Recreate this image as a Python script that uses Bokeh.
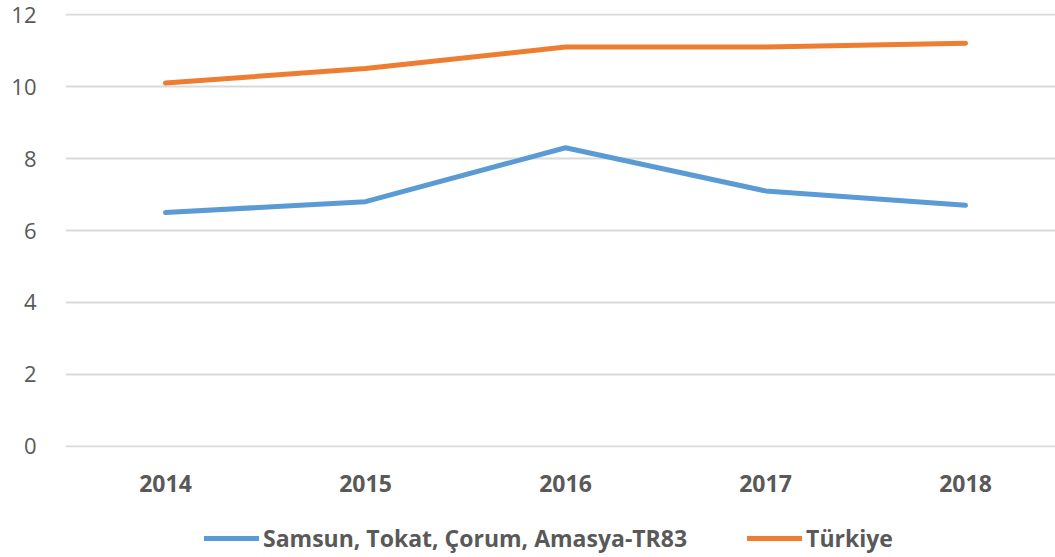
from bokeh.plotting import figure
from bokeh.layouts import column
from bokeh.models import Range1d, FixedTicker, Legend, LegendItem
from bokeh.embed import file_html
from bokeh.resources import INLINE

years = ["2014", "2015", "2016", "2017", "2018"]
tr83 = [6.5, 6.8, 8.3, 7.1, 6.7]
turkiye = [10.1, 10.5, 11.1, 11.1, 11.2]
series_names = ["Samsun, Tokat, Çorum, Amasya-TR83", "Türkiye"]
series_colors = ["#5B9BD5", "#ED7D31"]
y_ticks = [0, 2, 4, 6, 8, 10, 12]

xs = list(range(len(years)))
W = 1055
LEFT = 65

p = figure(width=W, height=505, output_backend="svg", toolbar_location=None,
           x_range=Range1d(-0.5, (W - LEFT) / 200 - 0.5), y_range=Range1d(-0.03, 12.03),
           min_border_left=LEFT, min_border_right=0, min_border_top=13, min_border_bottom=58)
p.outline_line_color = None
p.background_fill_color = "white"
p.border_fill_color = "white"

p.line(xs, tr83, line_color=series_colors[0], line_width=5, line_cap="round", line_join="round")
p.line(xs, turkiye, line_color=series_colors[1], line_width=5, line_cap="round", line_join="round")

p.xaxis.ticker = FixedTicker(ticks=xs)
p.xaxis.major_label_overrides = {i: y for i, y in enumerate(years)}
p.xaxis.axis_line_color = None
p.xaxis.major_tick_line_color = None
p.xaxis.minor_tick_line_color = None
p.xaxis.major_label_text_font = "Open Sans"
p.xaxis.major_label_text_font_style = "bold"
p.xaxis.major_label_text_font_size = "23px"
p.xaxis.major_label_text_color = "#595959"
p.xaxis.major_label_standoff = 21

p.yaxis.ticker = FixedTicker(ticks=y_ticks)
p.yaxis.axis_line_color = None
p.yaxis.major_tick_line_color = None
p.yaxis.minor_tick_line_color = None
p.yaxis.major_label_text_font = "Open Sans"
p.yaxis.major_label_text_font_size = "22px"
p.yaxis.major_label_text_color = "#595959"
p.yaxis.major_label_standoff = 23

p.xgrid.grid_line_color = None
p.ygrid.grid_line_color = "#D9D9D9"
p.ygrid.grid_line_width = 2
p.ygrid.ticker = FixedTicker(ticks=y_ticks)

# legend strip below the chart (its frame is aligned with the chart's frame)
lg = figure(width=W, height=52, output_backend="svg", toolbar_location=None,
            x_range=Range1d(0, 1), y_range=Range1d(0, 1),
            x_axis_location=None, y_axis_location=None, min_border=0)
lg.outline_line_color = None
lg.xgrid.visible = False
lg.ygrid.visible = False
items = []
for name, col, vals in zip(series_names, series_colors, [tr83, turkiye]):
    r = lg.line(xs, vals, line_color=col, line_width=5, line_cap="round")  # out of view; legend key only
    items.append(LegendItem(label=name, renderers=[r]))
legend = Legend(items=items, orientation="horizontal", location=(139, 3),
                label_text_font="Open Sans", label_text_font_style="bold",
                label_text_font_size="23px", label_text_color="#595959",
                glyph_width=55, label_standoff=4, spacing=60,
                border_line_color=None, background_fill_alpha=0,
                padding=0, margin=0)
lg.add_layout(legend)

layout = column(p, lg, spacing=0)
open("out.html", "w").write(file_html(layout, INLINE))
